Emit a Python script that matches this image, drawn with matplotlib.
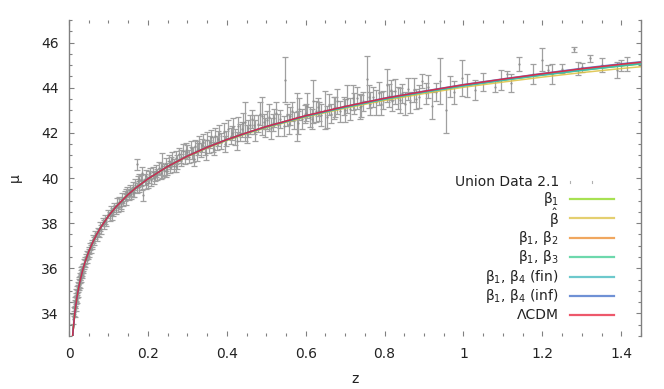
import matplotlib
matplotlib.use("Agg")
import matplotlib.pyplot as plt
from matplotlib.lines import Line2D
from matplotlib.ticker import MultipleLocator, FormatStrFormatter
import numpy as np

# ---------------- data ----------------
# Union 2.1 supernovae (approximate readings): redshift, distance modulus, error
sn_z = [0.0104, 0.0122, 0.0135, 0.0143, 0.0151, 0.0160, 0.0165, 0.0172, 0.0180, 0.0188,
        0.0195, 0.0203, 0.0212, 0.0220, 0.0228, 0.0236, 0.0245, 0.0253, 0.0262, 0.0270,
        0.0278, 0.0286, 0.0295, 0.0303, 0.0312, 0.0320, 0.0330, 0.0340, 0.0350, 0.0362,
        0.0375, 0.0388, 0.0400, 0.0415, 0.0430, 0.0445, 0.0460, 0.0478, 0.0495, 0.0512,
        0.0530, 0.0550, 0.0572, 0.0595, 0.0620, 0.0645, 0.0670, 0.0700, 0.0730, 0.0760,
        0.0790, 0.0820, 0.0850, 0.0880, 0.0910, 0.0950, 0.0990, 0.1030,
        0.106, 0.110, 0.114, 0.118, 0.122, 0.125, 0.128, 0.132, 0.135, 0.138,
        0.142, 0.145, 0.148, 0.152, 0.155, 0.158, 0.162, 0.165, 0.168, 0.172,
        0.175, 0.178, 0.182, 0.185, 0.188, 0.172, 0.185, 0.192, 0.196, 0.200,
        0.204, 0.208, 0.212, 0.216, 0.220, 0.224, 0.228, 0.232, 0.237, 0.241,
        0.245, 0.249, 0.253, 0.257, 0.262, 0.266, 0.270, 0.275, 0.280, 0.285,
        0.290, 0.295, 0.300, 0.305, 0.310, 0.315, 0.320, 0.325, 0.330, 0.335,
        0.340, 0.345, 0.350, 0.355, 0.360, 0.365, 0.370, 0.375, 0.380, 0.386,
        0.392, 0.398, 0.404, 0.410, 0.416, 0.422, 0.428, 0.434, 0.440, 0.447,
        0.452, 0.458,
        0.112, 0.131, 0.144, 0.161, 0.177, 0.194, 0.206, 0.218, 0.234, 0.247,
        0.259, 0.272, 0.283, 0.297,
        0.312, 0.318, 0.328, 0.338, 0.348, 0.358, 0.368, 0.378, 0.395, 0.412,
        0.425, 0.438, 0.455, 0.470, 0.495, 0.520, 0.545, 0.560, 0.580, 0.600,
        0.615, 0.635, 0.655, 0.675, 0.700, 0.720, 0.740, 0.760, 0.790, 0.815,
        0.840, 0.860, 0.880, 0.910, 0.930,
        0.465, 0.472, 0.478, 0.485, 0.490, 0.496, 0.502, 0.508, 0.512, 0.518,
        0.524, 0.530, 0.536, 0.547, 0.552, 0.558, 0.565, 0.571, 0.577, 0.583,
        0.590, 0.597, 0.604, 0.611, 0.618, 0.625, 0.632, 0.640, 0.650, 0.658,
        0.665, 0.673, 0.680, 0.688, 0.696, 0.705, 0.713, 0.722, 0.730, 0.738,
        0.746, 0.755, 0.762, 0.770, 0.778, 0.787, 0.795, 0.806, 0.810, 0.818,
        0.826, 0.834, 0.845, 0.852, 0.865, 0.875, 0.886, 0.896, 0.905, 0.920,
        0.940, 0.955, 0.965, 0.975, 0.995, 1.010, 1.030, 1.050, 1.080, 1.095,
        1.110, 1.120, 1.140, 1.175, 1.200, 1.215, 1.225, 1.250, 1.280, 1.290,
        1.300, 1.320, 1.350, 1.390, 1.400, 1.414]
sn_mu = [33.75, 34.10, 34.30, 34.05, 34.42, 34.55, 34.30, 34.72, 34.60, 34.90,
         34.65, 34.85, 35.05, 34.92, 35.22, 35.10, 35.35, 35.20, 35.48, 35.30,
         35.62, 35.50, 35.78, 35.55, 35.90, 35.70, 35.95, 35.80, 36.05, 35.95,
         36.25, 36.10, 36.35, 36.20, 36.50, 36.38, 36.62, 36.55, 36.80, 36.68,
         36.95, 36.85, 37.10, 37.02, 37.30, 37.20, 37.48, 37.38, 37.62, 37.55,
         37.85, 37.72, 38.05, 37.95, 38.15, 38.05, 38.40, 38.30,
         38.55, 38.35, 38.70, 38.60, 38.90, 38.70, 38.95, 38.85, 39.10, 38.95,
         39.20, 39.05, 39.40, 39.25, 39.45, 39.30, 39.60, 39.40, 39.70, 39.55,
         39.85, 39.62, 39.90, 39.70, 39.25, 40.60, 40.20, 39.95, 40.10, 39.80,
         40.05, 39.90, 40.25, 40.00, 40.30, 40.15, 40.45, 40.20, 40.55, 40.35,
         40.60, 40.40, 40.75, 40.50, 40.85, 40.55, 40.90, 40.70, 41.05, 40.80,
         41.20, 40.90, 41.15, 40.95, 41.35, 41.05, 41.40, 41.20, 41.55, 41.25,
         41.60, 41.35, 41.70, 41.40, 41.80, 41.50, 41.85, 41.55, 41.95, 41.65,
         42.05, 41.75, 42.15, 41.85, 42.25, 41.80, 42.30, 42.00, 42.45, 42.50,
         41.95, 42.35,
         38.50, 38.75, 39.30, 39.35, 39.95, 39.75, 40.20, 40.10, 40.40, 40.30,
         40.65, 40.55, 40.95, 41.25,
         41.10, 40.85, 41.30, 41.45, 41.10, 41.60, 41.30, 41.75, 41.50, 42.00,
         41.65, 42.15, 42.20, 42.35, 42.50, 42.65, 42.30, 42.75, 42.45, 42.90,
         42.60, 42.95, 42.70, 43.15, 43.00, 43.55, 43.20, 43.60, 43.30, 43.90,
         43.45, 43.95, 43.50, 44.05, 43.80,
         42.60, 42.10, 42.40, 42.85, 42.75, 42.25, 42.55, 42.70, 42.20, 42.45,
         42.90, 42.35, 42.60, 44.36, 42.80, 42.40, 42.95, 42.55, 42.70, 43.05,
         42.60, 42.85, 43.20, 42.70, 43.40, 42.95, 43.15, 42.80, 43.00, 43.25,
         42.85, 43.10, 43.40, 42.95, 43.20, 43.50, 43.05, 43.30, 43.55, 43.15,
         43.40, 44.40, 43.30, 43.60, 43.35, 43.75, 43.45, 44.10, 43.65, 43.40,
         43.85, 43.55, 43.75, 43.30, 43.35, 43.90, 43.60, 44.30, 43.75, 43.20,
         44.30, 43.00, 44.05, 43.80, 44.45, 44.10, 43.90, 44.25, 44.05, 44.35,
         44.60, 44.20, 45.05, 44.60, 45.25, 44.80, 44.60, 44.85, 45.70, 44.85,
         44.90, 45.30, 45.00, 44.80, 45.00, 45.05]
sn_err = [0.22, 0.20, 0.19, 0.21, 0.18, 0.20, 0.19, 0.17, 0.18, 0.18,
          0.17, 0.17, 0.16, 0.17, 0.16, 0.16, 0.16, 0.16, 0.15, 0.16,
          0.15, 0.15, 0.15, 0.15, 0.15, 0.15, 0.16, 0.15, 0.15, 0.15,
          0.15, 0.15, 0.15, 0.16, 0.15, 0.15, 0.15, 0.16, 0.15, 0.16,
          0.15, 0.16, 0.16, 0.16, 0.17, 0.17, 0.17, 0.18, 0.18, 0.18,
          0.18, 0.18, 0.18, 0.19, 0.19, 0.19, 0.19, 0.19,
          0.20, 0.22, 0.20, 0.21, 0.22, 0.20, 0.23, 0.21, 0.22, 0.20,
          0.22, 0.23, 0.22, 0.21, 0.24, 0.22, 0.23, 0.22, 0.24, 0.22,
          0.24, 0.23, 0.25, 0.22, 0.25, 0.25, 0.30, 0.24, 0.25, 0.23,
          0.26, 0.24, 0.25, 0.25, 0.26, 0.24, 0.27, 0.25, 0.55, 0.26,
          0.27, 0.25, 0.28, 0.26, 0.30, 0.27, 0.28, 0.30, 0.29, 0.27,
          0.30, 0.28, 0.31, 0.30, 0.30, 0.32, 0.30, 0.45, 0.31, 0.30,
          0.33, 0.32, 0.35, 0.30, 0.34, 0.33, 0.36, 0.32, 0.40, 0.35,
          0.38, 0.34, 0.40, 0.35, 0.42, 0.36, 0.40, 0.38, 0.45, 0.85,
          0.40, 0.42,
          0.18, 0.20, 0.22, 0.21, 0.24, 0.22, 0.25, 0.23, 0.26, 0.25,
          0.27, 0.28, 0.29, 0.30,
          0.28, 0.30, 0.26, 0.30, 0.32, 0.28, 0.30, 0.33, 0.35, 0.30,
          0.40, 0.35, 0.38, 0.42, 0.35, 0.40, 0.45, 0.40, 0.50, 0.38,
          0.45, 0.42, 0.50, 0.45, 0.50, 0.55, 0.48, 0.52, 0.50, 0.45,
          0.55, 0.50, 0.45, 0.50, 0.40,
          0.40, 0.45, 0.38, 0.50, 0.85, 0.42, 0.40, 0.60, 0.45, 0.38,
          0.45, 0.50, 0.40, 1.00, 0.50, 0.45, 0.42, 0.38, 1.05, 0.50,
          0.45, 0.40, 0.55, 0.45, 0.95, 0.48, 0.40, 0.50, 0.85, 0.45,
          0.42, 0.50, 0.55, 0.45, 0.40, 0.60, 0.48, 0.45, 0.50, 0.55,
          0.42, 1.00, 0.50, 0.45, 0.55, 0.50, 0.40, 0.75, 0.50, 0.45,
          0.55, 0.48, 0.42, 0.50, 0.45, 0.55, 0.50, 0.30, 0.45, 0.60,
          1.00, 1.00, 0.45, 0.50, 0.80, 0.50, 0.45, 0.40, 0.25, 0.45,
          0.15, 0.40, 0.30, 0.45, 0.50, 0.20, 0.45, 0.20, 0.10, 0.30,
          0.20, 0.15, 0.30, 0.35, 0.25, 0.30]

# model curves (distance modulus vs redshift)
model_z = [0.005, 0.0075, 0.01, 0.015, 0.02, 0.025, 0.03, 0.035, 0.04, 0.05,
           0.06, 0.07, 0.08, 0.1, 0.12, 0.15, 0.17, 0.2, 0.25, 0.3,
           0.35, 0.4, 0.45, 0.5, 0.6, 0.7, 0.8, 0.9, 1.0, 1.1,
           1.2, 1.3, 1.4, 1.45]
mu_lcdm = [31.66, 32.55, 33.17, 34.06, 34.70, 35.19, 35.59, 35.94, 36.24, 36.74,
           37.15, 37.50, 37.80, 38.32, 38.74, 39.27, 39.57, 39.96, 40.51, 40.97,
           41.36, 41.70, 42.00, 42.28, 42.76, 43.17, 43.53, 43.84, 44.13, 44.38,
           44.62, 44.84, 45.04, 45.13]
mu_beta1 = [31.66, 32.55, 33.17, 34.06, 34.70, 35.19, 35.59, 35.94, 36.24, 36.74,
            37.15, 37.50, 37.80, 38.32, 38.74, 39.27, 39.57, 39.96, 40.51, 40.96,
            41.35, 41.69, 41.99, 42.26, 42.74, 43.14, 43.50, 43.80, 44.09, 44.33,
            44.56, 44.77, 44.96, 45.05]
mu_betahat = [31.66, 32.55, 33.17, 34.06, 34.70, 35.19, 35.59, 35.94, 36.24, 36.74,
              37.15, 37.50, 37.80, 38.32, 38.74, 39.27, 39.57, 39.95, 40.50, 40.95,
              41.33, 41.66, 41.96, 42.23, 42.70, 43.09, 43.44, 43.74, 44.02, 44.25,
              44.47, 44.67, 44.85, 44.93]
mu_b1b2 = [31.66, 32.55, 33.17, 34.06, 34.70, 35.19, 35.59, 35.94, 36.24, 36.74,
           37.15, 37.50, 37.80, 38.32, 38.74, 39.27, 39.57, 39.96, 40.51, 40.97,
           41.36, 41.70, 42.00, 42.27, 42.75, 43.15, 43.51, 43.82, 44.10, 44.35,
           44.59, 44.80, 45.00, 45.09]
mu_b1b3 = [31.66, 32.55, 33.17, 34.06, 34.70, 35.19, 35.59, 35.94, 36.24, 36.74,
           37.15, 37.50, 37.80, 38.32, 38.74, 39.27, 39.57, 39.96, 40.51, 40.97,
           41.36, 41.69, 41.99, 42.26, 42.74, 43.14, 43.50, 43.81, 44.09, 44.34,
           44.57, 44.78, 44.98, 45.07]
mu_b1b4_fin = [31.66, 32.55, 33.17, 34.06, 34.70, 35.19, 35.59, 35.94, 36.24, 36.74,
               37.15, 37.50, 37.80, 38.32, 38.74, 39.27, 39.57, 39.96, 40.51, 40.97,
               41.36, 41.69, 41.99, 42.26, 42.73, 43.13, 43.49, 43.80, 44.08, 44.33,
               44.56, 44.77, 44.97, 45.06]
mu_b1b4_inf = [31.66, 32.55, 33.17, 34.06, 34.70, 35.19, 35.59, 35.94, 36.24, 36.74,
               37.15, 37.50, 37.80, 38.32, 38.74, 39.27, 39.57, 39.96, 40.51, 40.97,
               41.36, 41.70, 42.00, 42.28, 42.76, 43.17, 43.54, 43.85, 44.14, 44.39,
               44.63, 44.86, 45.06, 45.15]

labels = ["Union Data 2.1", r"$\mathregular{β_1}$", r"$\mathregular{\hat{β}}$",
          r"$\mathregular{β_1}$, $\mathregular{β_2}$", r"$\mathregular{β_1}$, $\mathregular{β_3}$",
          r"$\mathregular{β_1}$, $\mathregular{β_4}$ (fin)", r"$\mathregular{β_1}$, $\mathregular{β_4}$ (inf)",
          "ΛCDM"]
x_ticks = [0, 0.2, 0.4, 0.6, 0.8, 1.0, 1.2, 1.4]
y_ticks = [34, 36, 38, 40, 42, 44, 46]

curves = [mu_beta1, mu_betahat, mu_b1b2, mu_b1b3, mu_b1b4_fin, mu_b1b4_inf, mu_lcdm]
colors = ["#8ad818", "#dcc040", "#ec8a2a", "#3ccc90", "#3cb8bc", "#3f6cc8", "#e8203a"]

# ---------------- figure ----------------
plt.rcParams['font.family'] = ['DejaVu Sans']
fig = plt.figure(figsize=(6.64, 3.89), dpi=100)
ax = fig.add_axes([69/664, 1-336/389, (641-69)/664, (336-20)/389])

ax.errorbar(sn_z, sn_mu, yerr=sn_err, fmt='.', color='#909090', ecolor='#a0a0a0',
            elinewidth=0.9, capsize=2.5, capthick=0.9, markersize=1.2, zorder=1)

for mu, c in zip(curves, colors):
    ax.plot(model_z, mu, color=c, lw=1.1, alpha=0.85, zorder=2)

ax.set_xlim(0, 1.45)
ax.set_ylim(33, 47)
ax.set_xticks(x_ticks)
ax.set_yticks(y_ticks)
ax.xaxis.set_major_formatter(FormatStrFormatter('%g'))
ax.xaxis.set_minor_locator(MultipleLocator(0.05))
ax.yaxis.set_minor_locator(MultipleLocator(0.5))
ax.tick_params(which='both', direction='in', top=True, right=True, color='#808080',
               labelsize=10, labelcolor='#222222')
ax.tick_params(which='major', length=3.5, width=0.8)
ax.tick_params(which='minor', length=2.0, width=0.8)
ax.tick_params(axis='x', pad=8)
ax.tick_params(axis='y', pad=7.5)
for s in ['top', 'bottom']:
    ax.spines[s].set_visible(False)
for s in ['left', 'right']:
    ax.spines[s].set_color('#808080')
    ax.spines[s].set_linewidth(1.0)

ax.set_xlabel('z', fontsize=10, color='#222222', labelpad=8)
ax.set_ylabel('μ', fontsize=10, color='#222222', rotation=90, labelpad=14)

# ---------------- key (gnuplot style: right-justified text, sample right) ----------------
W, H = 664, 389
row_y = [182, 198.5, 218, 237.7, 257, 276.7, 296, 315]
text_x = 559
for i, lab in enumerate(labels):
    yf = 1 - row_y[i] / H
    fig.text(text_x / W, yf, lab, ha='right', va='center', fontsize=10, color='#222222')
    if i == 0:
        fig.add_artist(Line2D([570/W, 570/W], [yf - 1/H, yf + 1.5/H], color='#b0b0b0', lw=0.8))
        fig.add_artist(Line2D([592/W, 592/W], [yf - 1/H, yf + 1/H], color='#b0b0b0', lw=0.8))
    else:
        fig.add_artist(Line2D([570/W, 614/W], [yf, yf], color=colors[i-1], lw=1.6, alpha=0.75))

fig.savefig('out.png', dpi=100)
